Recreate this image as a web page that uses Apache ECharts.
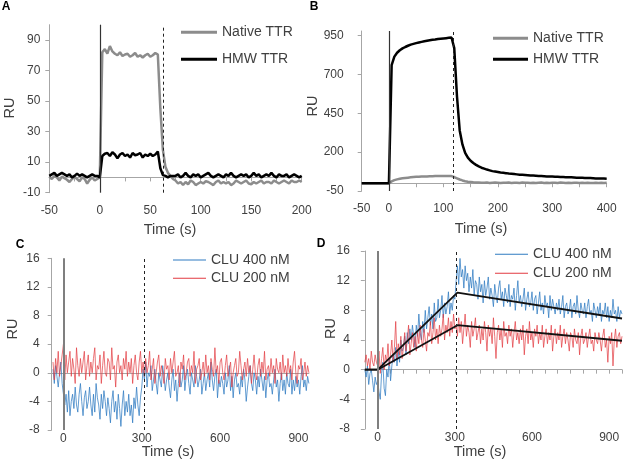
<!DOCTYPE html>
<html><head><meta charset="utf-8">
<script src="https://cdn.jsdelivr.net/npm/echarts@6/dist/echarts.min.js"></script>
<style>html,body{margin:0;padding:0;background:#fff}#c{width:625px;height:460px}</style>
</head><body><div id="c"></div>
<script>
const FONT = '"Liberation Sans", Arial, sans-serif';
const TXT = '#404040';
const AX = '#a6a6a6';

// ---------- Panel A (time -50..200 s, every 2.5 s) ----------
const tA_start = -50, tA_step = 2.5;
const nativeA = [0.5,-1,1,0,-2,0.5,-0.5,-1.5,-3,-1, 0.5,-1,-2.5,0,-1,-4,-1.5,0,-2,-1,
  0,82,84,81,86,82.5,81,80,82,79.5, 80.5,81,79,80,81.5,79,80,78.5,80,81, 79,80,81.5,80.5,
  45,18,7,3,1,-1,
  -2,-4,-3,-5,-3,-4.5,-2,-3,-5,-4, -3,-4,-2.5,-3,-4,-5,-3,-2,-4,-3, -4,-3,-5,-4,-2,-3,-4,-3,-2,-4,
  -4.5,-3,-4,-3,-2,-4,-3,-3,-4,-2, -3,-4,-3,-2,-3,-4,-2,-3,-3,-2, -3];
const hmwA = [1,2,3,1,2,3,2,1,2,0, 1,2.5,1,2,1,0,1,2,1,1,
  0,14,15.5,16,14,16.5,15,12.5,15,16, 14,15,13,16,14.5,15,16,13,15,14, 15.5,14,15,17,
  6,1.5,1,0,1,1,
  1,2,0,1,3,1,0,2,1,2, 0,1,2,3,1,0,1,2,1,0, 2,1,3,1,0,1,2,1,2,0, 1,3,1,2,0,1,2,1,3,1, 0,2,1,1,2,0,1,2,1,0, 1];
const injectA = 0, washA = 63;

// ---------- Panel B (time -50..400 s, every 5 s) ----------
const tB_start = -50, tB_step = 5;
const nativeB = [0,0,0,0,0,0,0,0,0,0,
  0,12,20,25,29,32,34,36,38,40, 41,42,43,44,44,45,45,46,46,46, 46,47,46,46,
  40,32,24,18,13,10,8,6,5,
  4,3,3,4,2,3,4,3,2,3, 3,4,2,3,3,2,4,3,3,2, 3,2,3,4,2,3,2,3,3,2, 4,3,2,3,2,3,3,2,3,2, 3,2,2,3,2,3,2,3];
const hmwB = [0,0,0,0,0,0,0,0,0,0,
  0,760,815,840,856,868,877,885,892,897, 902,906,910,914,917,920,923,925,928,930, 932,934,936,938,
  870,560,340,250,195,165,145,130,118,108, 100,94,88,83,78,75,72,
  69,67,65,62,61,59,57,55,54,53, 52,50,49,48,47,46,45,44,44,43, 42,41,40,40,39,38,38,37,36,35, 35,34,33,33,32,31,31,30,30,29];
const injectB = 0, washB = 118;

// ---------- Panel C (time -40..940 s, every 5 s) ----------
const tC_start = -40, tC_step = 5;
const clu400C = [0.5,-1.5,1,-0.5,-2,0,1.5,-1.5,
  -1.5,-4.5,-3,-5.5,-2.5,-6,-4,-3,-5,-2,
  -4.5,-5.5,-3,-1.5,-4,-6,-3.5,-2.5,-5,-4,
  -2,-4.5,-6,-3,-5.5,-1.5,-3.5,-4.5,-6.5,-3,
  -5,-2.5,-4,-6,-3.5,-5,-7,-4,-2.5,-5.5,
  -4,-6.5,-3,-5,-7.5,-4.5,-2.5,-6,-4,-5.5,
  -3,-6,-4.5,-7,-3.5,-5,-2,-4.5,-6,-3.5,
  -2,
  0.5,-1,1.5,-2,0,-0.5,1,-2.5,-1,0.5,
  -1.5,-3,0,-1,-2,1,-0.5,-2.5,-1,0,
  -2,-3.5,-1,0.5,-2.5,-1,-4,-1.5,0,-2,
  -1,1,-2.5,-0.5,0.5,-1.5,-3,0,-1,-2,
  1,-0.5,-2,-1,0.5,-3,-1.5,0,-2.5,-1,
  0,-2,1.5,-1,-2.5,-0.5,0.5,-3.5,-1,-2,
  -0.5,-1.5,-3,0,-2,-1,1,-2.5,-0.5,-3.5,
  -1,0,-2,-1.5,-3,-0.5,-2,0.5,-1,-4,
  -2,-0.5,1,-1.5,-2.5,0,-1,-3,-0.5,-2,
  0.5,-1,-2.5,-0.5,-3.5,-1,0,-2,-1.5,-3,
  -1,0.5,-2,-1,-4,-1.5,0,-2.5,-1,-3,
  0,-1.5,-2,0.5,-3,-1,-2.5,-0.5,-2,-1,
  -3,-0.5,1,-2,-1,-2.5,-0.5,-1.5];
const clu200C = [1.5,-1,2,0,3,-0.5,1,2.5,
  4,-1,2.5,0,1.5,3,-0.5,2,0.5,-1.5,
  3.5,1,-0.5,2,0,1.5,3,-1,1,2.5,
  -0.5,1.5,0,2,3.5,-1,1,0.5,2.5,-1.5,
  1,3,0,-0.5,2,1.5,-1,3.5,0.5,1,
  -2,1.5,2.5,0,1,-1,2,0.5,3,-0.5,
  1.5,0,2,-1.5,1,2.5,0,-1,1.5,3,
  0,
  1.5,-0.5,2,0,1,3,-1,0.5,2,-1.5,
  0,1.5,2.5,-0.5,1,0,-1.5,2,0.5,1,
  -1,2,0,1.5,3,-0.5,0,1,-2,1.5,
  0.5,2.5,-1,0,1.5,2,-0.5,1,0,3,
  -1.5,0.5,1,2,-1,0,1.5,-0.5,2.5,0,
  1,-1,2,0.5,-0.5,3.5,0,1,-1.5,1.5,
  2,0,-1,1,2.5,-0.5,0.5,1.5,-2,0,
  1,2,-0.5,0,3,1,-1,0.5,1.5,-0.5,
  2,0,1,-1.5,0.5,2.5,0,-1,1,2,
  -0.5,1.5,0,3,-1,0.5,1,-0.5,2,0,
  1,-1.5,2,0.5,0,1.5,-1,2.5,0,1,
  -0.5,2,0,1,-1,1.5,3,0,-1.5,1,
  0.5,2,-1,0,1.5,-0.5,1,0];
const washC = 310;

// ---------- Panel D (time -50..950 s, every 5 s) ----------
const tD_start = -50, tD_step = 5;
const clu400D = [0,-1,0.5,-2,-0.5,0,-1.5,-3,-1,-2,
  -1.5,-3,-4,-0.5,1,-2.5,-3.5,0,-1,1.5,
  -1.5,0.5,2,1,3,0.5,2.5,1,4,2.5,
  3,4.5,2,5,3.5,5.5,4,6,4.5,3,
  6,4.5,7.5,5,4,6.5,5,8,5.5,7,
  8.5,6,7.5,5.5,9,6.5,7,9.5,7,8,
  10,7,9,7.5,8.5,10.5,7.5,9,8,10,
  9.5,
  12,14,11.5,15,12.5,13.5,11,14,12,13,
  10.5,12.5,11,13.5,10,12,11.5,9.5,12.5,10.5,
  11.5,9,12,10,11,12.5,9.5,11,10,8.5,
  11.5,10,9,11,12,9.5,10.5,8.5,11,10,
  9,11.5,8.5,10,9.5,11,8,10,12,9,
  10,8.5,9.5,11,8,9.5,10.5,8.5,9,10.5,
  8,9.5,10,7.5,9,10.5,8,9,7.5,10,
  8.5,9,7,10,8,9.5,8.5,7.5,9,8,
  9.5,7.5,8.5,10,7,8.5,9,7.5,8,9.5,
  7,8.5,9,7.5,10,8,7,9,8,7.5,
  9,7,8.5,9.5,7.5,8,6.5,9,8,7,
  8.5,7.5,9,6.5,8,7.5,9,7,8.5,6.5,
  8,7,9.5,7.5,8,6.5,8.5,7,8,7.5];
const clu200D = [1,2,0.5,1.5,0,2.5,1,0.5,2,1,
  0.5,2.5,-0.5,1.5,3,0,2,1,3.5,0.5,
  2,4,1,3,6.5,1.5,3.5,2,4.5,1.5,
  3,5,2.5,4,6,2,3.5,5,3,4.5,
  2.5,5,3.5,6,4,3,5.5,4,2.5,5,
  4.5,6.5,3.5,5,7,4,5.5,3.5,6,4.5,
  5.5,7.5,4,6,5,7,4.5,6.5,5,7.5,
  5.5,
  6,4.5,7,5,6.5,3.5,5.5,7.5,4.5,6,
  5,3,6.5,4.5,5.5,7,4,5,6,3.5,
  5.5,4,6.5,5,2.5,6,4.5,5.5,3.5,7,
  4.5,1.5,5,6,4,5.5,3,6.5,4.5,5,
  3.5,6,4.5,5.5,3,5,6.5,4,5,3.5,
  5.5,4,6,2,4.5,5.5,3.5,6.5,4,5,
  3,5.5,4.5,6,3.5,5,4,6,3,4.5,
  5.5,3.5,5,4,6,2.5,4.5,5.5,3.5,5,
  4,6,3,4.5,5.5,3.5,5,4,2.5,5,
  4.5,3,5.5,4,3.5,5,2,4.5,5.5,3.5,
  4,5,3,4.5,5.5,3.5,4,2.5,5,4,
  3.5,5,4,2.5,4.5,5.5,3,4,1,4.5,
  3.5,5,0.5,4,5.5,3,4.5,5,3.5,4.5];
const fitD_t = [-50, 0, 310, 950];
const fit400D = [0, 0, 10.4, 6.9];
const fit200D = [0, 0, 6.0, 3.9];
const washD = 307;

const pairs = (start, step, ys) => ys.map((y, i) => [start + i * step, y]);
const zip = (xs, ys) => xs.map((x, i) => [x, ys[i]]);

function vlines(solidAt, dashAt, solidColor, solidWidth) {
  return {
    silent: true, symbol: 'none', label: {show: false}, animation: false,
    data: [
      {xAxis: solidAt, lineStyle: {color: solidColor, width: solidWidth, type: 'solid'}},
      {xAxis: dashAt, lineStyle: {color: '#222', width: 1, type: [3, 3]}}
    ]
  };
}

const lbl = (margin, extra) => Object.assign({margin, fontSize: 12, color: TXT, fontFamily: FONT}, extra || {});
function labelX(grid, min, max, interval, margin, fmt) {
  return {gridIndex: grid, type: 'value', position: 'bottom', min, max, interval,
    axisLine: {show: false, onZero: false}, axisTick: {show: false}, splitLine: {show: false},
    axisLabel: lbl(margin, {formatter: fmt, showMaxLabel: true, showMinLabel: true})};
}
function zeroX(grid, min, max, interval, ticks) {
  return {gridIndex: grid, type: 'value', position: 'top', min, max, interval,
    axisLine: {show: true, onZero: true, lineStyle: {color: AX, width: 1}},
    axisTick: {show: ticks, inside: true, length: 4, lineStyle: {color: AX}},
    axisLabel: {show: false}, splitLine: {show: false}};
}
function yAx(grid, min, max, interval, margin, showMax) {
  return {gridIndex: grid, type: 'value', min, max, interval,
    axisLine: {show: true, onZero: false, lineStyle: {color: AX, width: 1}},
    axisTick: {show: true, length: 4, lineStyle: {color: AX}},
    splitLine: {show: false},
    axisLabel: lbl(margin, {showMaxLabel: showMax, showMinLabel: true})};
}
const only = (vals) => (v) => vals.some(x => Math.abs(x - v) < 1e-6) ? String(v) : '';

const GRAY = '#8c8c8c', BLACK = '#000000', BLUE = '#2f7bc1', RED = '#e23a40';
function line(name, data, xi, yi, color, width, opacity, extra) {
  return Object.assign({name, type: 'line', data, xAxisIndex: xi, yAxisIndex: yi,
    showSymbol: false, symbol: 'none', animation: false,
    itemStyle: {color}, lineStyle: {color, width, opacity}}, extra || {});
}

const legendText = {fontSize: 14, color: TXT, fontFamily: FONT, lineHeight: 16};
const bold = (t, x, y) => ({type: 'text', x, y, style: {text: t, align: 'center', verticalAlign: 'middle',
  fontSize: 12, fontWeight: 'bold', fontFamily: FONT, fill: '#000'}});
const txt = (text, x, y, rot) => ({type: 'text', x, y, rotation: rot || 0,
  style: {text, align: 'center', verticalAlign: 'middle', fontSize: 14.5, fontFamily: FONT, fill: TXT}});

const option = {
  animation: false,
  backgroundColor: '#fff',
  grid: [
    {left: 49.3, top: 24.7, width: 252.4, height: 168},
    {left: 361.7, top: 31, width: 245, height: 160},
    {left: 51.7, top: 258.3, width: 257.2, height: 171.7},
    {left: 364.85, top: 251, width: 258, height: 178}
  ],
  xAxis: [
    labelX(0, -50, 200, 50, 12),
    labelX(1, -50, 400, 50, 12, only([-50, 0, 100, 200, 300, 400])),
    labelX(2, -45, 940, 15, 3, only([0, 300, 600, 900])),
    labelX(3, -50, 950, 50, 3, only([0, 300, 600, 900])),
    zeroX(0, -50, 200, 25, true),
    zeroX(1, -50, 400, 50, true),
    zeroX(2, -45, 940, 15, false),
    zeroX(3, -50, 950, 50, true)
  ],
  yAxis: [
    yAx(0, -10, 100, 20, 9, false),
    yAx(1, -50, 980, 250, 18, false),
    yAx(2, -8, 16, 4, 12, true),
    yAx(3, -8, 16, 4, 15, true)
  ],
  legend: [
    {data: ['Native TTR', 'HMW TTR'], orient: 'vertical', left: 181, top: 24.3, padding: 0,
     itemWidth: 36, itemHeight: 3, itemGap: 11, icon: 'rect', textStyle: legendText, selectedMode: false},
    {data: ['Native TTR', 'HMW TTR'], orient: 'vertical', left: 493, top: 30.3, padding: 0,
     itemWidth: 35, itemHeight: 3, itemGap: 5, icon: 'rect', textStyle: legendText, selectedMode: false},
    {data: ['CLU 400 nM', 'CLU 200 nM'], orient: 'vertical', left: 173, top: 252, padding: 0,
     itemWidth: 33, itemHeight: 1, itemGap: 2.3, icon: 'rect', textStyle: legendText, selectedMode: false},
    {data: ['CLU 400 nM', 'CLU 200 nM'], orient: 'vertical', left: 495, top: 246.3, padding: 0,
     itemWidth: 33, itemHeight: 1, itemGap: 3, icon: 'rect', textStyle: legendText, selectedMode: false}
  ],
  series: [
    line('Native TTR', pairs(tA_start, tA_step, nativeA), 0, 0, GRAY, 2.5, 1,
      {markLine: vlines(injectA, washA, '#333', 1.2)}),
    line('HMW TTR', pairs(tA_start, tA_step, hmwA), 0, 0, BLACK, 2.5, 1),
    line('Native TTR', pairs(tB_start, tB_step, nativeB), 1, 1, GRAY, 2.5, 1,
      {markLine: vlines(injectB, washB, '#333', 1.2)}),
    line('HMW TTR', pairs(tB_start, tB_step, hmwB), 1, 1, BLACK, 2.5, 1),
    line('CLU 400 nM', pairs(tC_start, tC_step, clu400C), 2, 2, BLUE, 1, 0.75,
      {markLine: vlines(0, washC, '#7f7f7f', 2)}),
    line('CLU 200 nM', pairs(tC_start, tC_step, clu200C), 2, 2, RED, 1, 0.7),
    line('CLU 400 nM', pairs(tD_start, tD_step, clu400D), 3, 3, BLUE, 1, 0.75,
      {markLine: vlines(0, washD, '#7f7f7f', 2)}),
    line('CLU 200 nM', pairs(tD_start, tD_step, clu200D), 3, 3, RED, 1, 0.7),
    line('fit 400', zip(fitD_t, fit400D), 3, 3, '#111', 1.8, 1),
    line('fit 200', zip(fitD_t, fit200D), 3, 3, '#111', 1.8, 1)
  ],
  graphic: [
    bold('A', 6, 7), bold('B', 314, 7), bold('C', 20, 245), bold('D', 321, 244),
    txt('RU', 10, 108, Math.PI / 2),
    txt('RU', 313, 106, Math.PI / 2),
    txt('RU', 13, 329, Math.PI / 2),
    txt('RU', 331, 328.5, Math.PI / 2),
    txt('Time (s)', 170, 230),
    txt('Time (s)', 481, 229),
    txt('Time (s)', 168, 452),
    txt('Time (s)', 480, 452)
  ]
};

const chart = echarts.init(document.getElementById('c'), null, {renderer: 'canvas'});
chart.setOption(option);
</script>
</body></html>
